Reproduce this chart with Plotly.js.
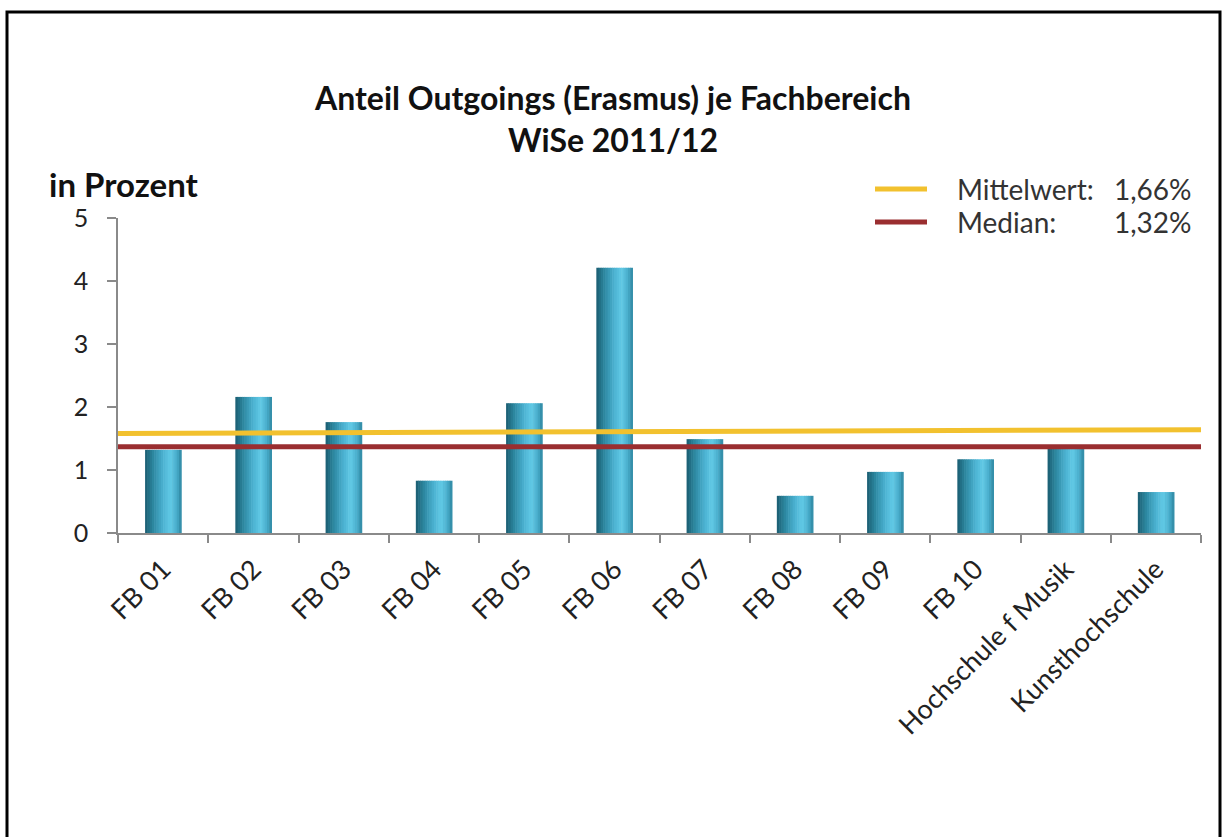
<!DOCTYPE html>
<html>
<head>
<meta charset="utf-8">
<script src="https://cdn.plot.ly/plotly-3.0.1.min.js"></script>
<style>
  html, body { margin: 0; padding: 0; background: #fff; }
  #chart { width: 1226px; height: 837px; }
</style>
</head>
<body>
<div id="chart"></div>
<script>
// ---- data ----
const categories = ["FB 01", "FB 02", "FB 03", "FB 04", "FB 05", "FB 06", "FB 07", "FB 08", "FB 09", "FB 10", "Hochschule f Musik", "Kunsthochschule"];
const values = [1.32, 2.16, 1.76, 0.83, 2.06, 4.21, 1.49, 0.59, 0.97, 1.17, 1.34, 0.65];
const meanLineY = [1.58, 1.64];     // drawn mean line (left end, right end)
const medianLineY = [1.37, 1.37];   // drawn median line
const lineX = [0, 1];
const legendLabels = ["Mittelwert:", "Median:"];
const legendValues = ["1,66%", "1,32%"];
const yTicks = [0, 1, 2, 3, 4, 5];

// ---- styling ----
const FONT = "Lato, 'Open Sans', sans-serif";
const gradientStops = [
  [0.00, [27, 92, 112]],
  [0.20, [42, 132, 156]],
  [0.50, [76, 178, 210]],
  [0.70, [98, 202, 230]],
  [0.88, [72, 172, 202]],
  [1.00, [46, 134, 160]]
];
function colorAt(t) {
  for (let i = 1; i < gradientStops.length; i++) {
    if (t <= gradientStops[i][0]) {
      const a = gradientStops[i - 1], b = gradientStops[i];
      const f = (t - a[0]) / (b[0] - a[0]);
      const c = a[1].map((v, k) => Math.round(v + (b[1][k] - v) * f));
      return `rgb(${c[0]},${c[1]},${c[2]})`;
    }
  }
  const c = gradientStops[gradientStops.length - 1][1];
  return `rgb(${c[0]},${c[1]},${c[2]})`;
}

const BAR_W = 0.4, SLICES = 16;
const traces = [];
for (let i = 0; i < SLICES; i++) {
  const w = BAR_W / SLICES;
  traces.push({
    type: "bar",
    x: categories,
    y: values,
    offset: -BAR_W / 2 + i * w,
    width: w * 1.25,
    marker: { color: colorAt((i + 0.5) / SLICES), line: { width: 0 } },
    hoverinfo: i === 0 ? "x+y" : "skip",
    showlegend: false
  });
}
traces.push({
  type: "scatter", mode: "lines", x: lineX, y: meanLineY, xaxis: "x2", yaxis: "y",
  line: { color: "#F2C12E", width: 5 }, showlegend: false, name: "Mittelwert"
});
traces.push({
  type: "scatter", mode: "lines", x: lineX, y: medianLineY, xaxis: "x2", yaxis: "y",
  line: { color: "#9A2E30", width: 5 }, showlegend: false, name: "Median"
});

// pixel -> paper helpers for decorations
const L = 118, R = 25, T = 218, B = 304, W = 1226, H = 837;
const pw = W - L - R, ph = H - T - B;
const px = v => (v - L) / pw;
const py = v => (H - B - v) / ph;

const legendColors = ["#F2C12E", "#9A2E30"];
const legendRowsY = [189, 222];

const shapes = [
  // outer frame
  { type: "rect", xref: "paper", yref: "paper", x0: px(7), x1: px(1220), y0: py(845), y1: py(12),
    line: { color: "#000", width: 3 }, fillcolor: "rgba(0,0,0,0)", layer: "below" }
];
const annotations = [
  { xref: "paper", yref: "paper", x: px(47), y: py(184), xanchor: "left", yanchor: "middle",
    text: "<b>in Prozent</b>", showarrow: false, font: { family: FONT, size: 33, color: "#111" } }
];
legendLabels.forEach((lab, i) => {
  shapes.push({ type: "line", xref: "paper", yref: "paper", x0: px(875), x1: px(927),
    y0: py(legendRowsY[i]), y1: py(legendRowsY[i]), line: { color: legendColors[i], width: 5 } });
  annotations.push({ xref: "paper", yref: "paper", x: px(955), y: py(legendRowsY[i]),
    xanchor: "left", yanchor: "middle", text: lab, showarrow: false,
    font: { family: FONT, size: 28, color: "#333" } });
  annotations.push({ xref: "paper", yref: "paper", x: px(1194), y: py(legendRowsY[i]),
    xanchor: "right", yanchor: "middle", text: legendValues[i], showarrow: false,
    font: { family: FONT, size: 28, color: "#333" } });
});

const layout = {
  width: W, height: H,
  margin: { l: L, r: R, t: T, b: B },
  paper_bgcolor: "#fff", plot_bgcolor: "#fff",
  barmode: "overlay",
  font: { family: FONT, color: "#333" },
  title: {
    text: "<b>Anteil Outgoings (Erasmus) je Fachbereich</b><br><b>WiSe 2011/12</b>",
    font: { family: FONT, size: 32, color: "#111" },
    xref: "container", x: 0.5, xanchor: "center",
    yref: "container", y: 1 - 110 / H, yanchor: "top"
  },
  xaxis: {
    type: "category", range: [-0.5, categories.length - 0.5],
    showline: true, linecolor: "#8a8a8a", linewidth: 1.5,
    ticks: "outside", tickson: "boundaries", ticklen: 8, tickcolor: "#8a8a8a", tickwidth: 1.5,
    tickangle: -45, tickfont: { family: FONT, size: 27, color: "#222" }, ticklabelstandoff: 8,
    showgrid: false, zeroline: false, fixedrange: true
  },
  xaxis2: { overlaying: "x", range: [0, 1], visible: false, fixedrange: true },
  yaxis: {
    range: [0, 5], tickvals: yTicks,
    showline: true, linecolor: "#8a8a8a", linewidth: 1.5,
    ticks: "outside", ticklen: 9, tickcolor: "#8a8a8a", tickwidth: 1.5,
    tickfont: { family: FONT, size: 25, color: "#222" }, ticklabelstandoff: 14,
    showgrid: false, zeroline: false, fixedrange: true
  },
  shapes: shapes,
  annotations: annotations
};

Plotly.newPlot("chart", traces, layout, { displayModeBar: false, staticPlot: false });
</script>
</body>
</html>
